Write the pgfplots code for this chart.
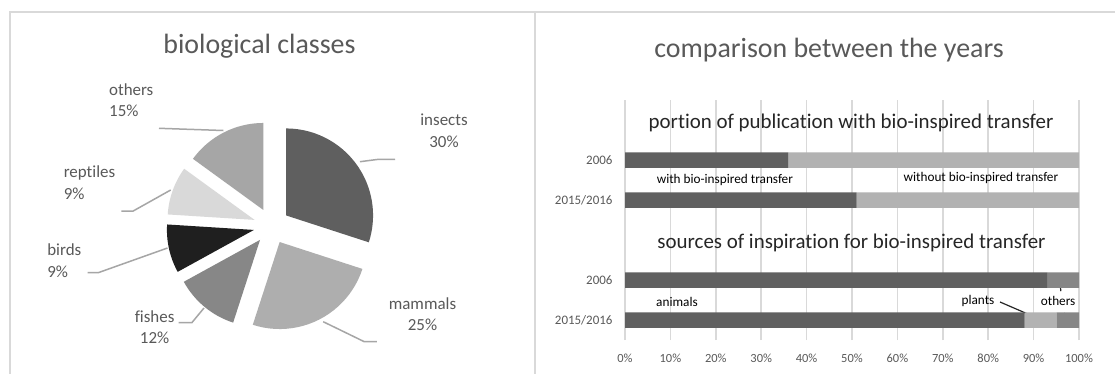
\documentclass[border=0pt]{standalone}
\usepackage{fontspec}
\setmainfont{Carlito}[Ligatures=NoCommon]
\usepackage{pgfplots}
\pgfplotsset{compat=1.18}
\definecolor{gridgray}{HTML}{D9D9D9}
\definecolor{txtgray}{HTML}{595959}
\definecolor{cdark}{HTML}{606060}
\definecolor{clight}{HTML}{B2B2B2}
\definecolor{cmid}{HTML}{868686}
\definecolor{pinsects}{HTML}{5F5F5F}
\definecolor{pmammals}{HTML}{AEAEAE}
\definecolor{pfishes}{HTML}{878787}
\definecolor{pbirds}{HTML}{1F1F1F}
\definecolor{preptiles}{HTML}{D9D9D9}
\definecolor{pothers}{HTML}{A6A6A6}
\definecolor{leader}{HTML}{A6A6A6}
\newcommand\fs[2]{\fontsize{#1}{#2}\selectfont}
% start (percent), share (percent), colour
\newcommand\pieslice[3]{%
  \fill[#3] (axis cs:{18*cos(90-3.6*(#1+#2/2))},{18*sin(90-3.6*(#1+#2/2))})
    -- +({90-3.6*#1}:87bp) arc[start angle={90-3.6*#1}, end angle={90-3.6*(#1+#2)}, radius=87bp] -- cycle;}
\begin{document}
\begin{tikzpicture}
\useasboundingbox (0,0) rectangle (1115bp,-374bp);
\fill[white] (0,0) rectangle (1115bp,-374bp);
\draw[gridgray, line width=1.5bp] (10bp,-374bp) -- (10bp,-12bp) -- (1115bp,-12bp);
\draw[gridgray, line width=1.5bp] (535bp,-12bp) -- (535bp,-374bp);

% ---------------- left: pie ----------------
\node[font=\fs{28}{30}, text=txtgray] at (259.5bp,-46.7bp) {biological classes};
\begin{axis}[at={(271.5bp,-226bp)}, anchor=center, x=1bp, y=1bp,
  xmin=-110, xmax=110, ymin=-110, ymax=110, hide axis, clip=false]
  \pieslice{0}{30}{pinsects}
  \pieslice{30}{25}{pmammals}
  \pieslice{55}{12}{pfishes}
  \pieslice{67}{9}{pbirds}
  \pieslice{76}{9}{preptiles}
  \pieslice{85}{15}{pothers}
\end{axis}
\begin{scope}[leader, line width=1.5bp]
\draw (159bp,-128.3bp) -- (223.3bp,-130.5bp);
\draw (360bp,-161.7bp) -- (377bp,-159.5bp) -- (395bp,-159.3bp);
\draw (121.4bp,-211bp) -- (133.2bp,-211bp) -- (170.7bp,-190bp);
\draw (87.5bp,-272.7bp) -- (98.2bp,-272.7bp) -- (167.5bp,-248bp);
\draw (178.5bp,-322.5bp) -- (192bp,-322.5bp) -- (204bp,-308bp);
\draw (323.2bp,-321.7bp) -- (364.3bp,-341.7bp) -- (376.8bp,-341.7bp);
\end{scope}
\begin{scope}[every node/.style={font=\fs{17}{22}, text=txtgray, inner sep=0pt}]
\node[align=left, anchor=west] at (109bp,-100.2bp) {others\\15\%};
\node[align=center] at (444bp,-130.8bp) {insects\\30\%};
\node[align=left, anchor=west] at (63.6bp,-183bp) {reptiles\\9\%};
\node[align=left, anchor=west] at (47.1bp,-260.5bp) {birds\\9\%};
\node[align=center] at (154.6bp,-327.2bp) {fishes\\12\%};
\node[align=center] at (422.5bp,-314.2bp) {mammals\\25\%};
\end{scope}

% ---------------- right: stacked bars ----------------
\node[font=\fs{28}{30}, text=txtgray] at (829bp,-50bp) {comparison between the years};
\begin{axis}[at={(625bp,-340bp)}, anchor=south west, scale only axis,
  width=454bp, height=240bp,
  xmin=0, xmax=100, ymin=-0.5, ymax=5.5,
  xbar stacked, bar width=15.5bp,
  axis line style={draw=none}, major tick length=0pt,
  xtick={0,10,...,100},
  xticklabels={0\%,10\%,20\%,30\%,40\%,50\%,60\%,70\%,80\%,90\%,100\%},
  ytick={0,1,3,4},
  yticklabels={2015/2016,2006,2015/2016,2006},
  xmajorgrids, grid style={gridgray, line width=1.5bp},
  tick label style={text=txtgray, font=\fs{12.5}{14}},
  xticklabel style={yshift=-10bp},
  yticklabel style={font=\fs{13}{14}, xshift=-9bp},
  clip=false]
  \addplot[fill=cdark, draw=none] coordinates {(36,4) (51,3) (93,1) (88,0)};
  \addplot[fill=clight, draw=none] coordinates {(64,4) (49,3) (0,1) (7,0)};
  \addplot[fill=cmid, draw=none] coordinates {(0,4) (0,3) (7,1) (5,0)};
  \node[font=\fs{21}{24}, text=black!85] at (axis cs:49.8,4.925) {portion of publication with bio-inspired transfer};
  \node[font=\fs{21}{24}, text=black!85] at (axis cs:49.9,1.92) {sources of inspiration for bio-inspired transfer};
  \node[font=\fs{13.3}{15}, inner sep=0pt] at (axis cs:22,3.5) {with bio-inspired transfer};
  \node[font=\fs{13.3}{15}, inner sep=0pt] at (axis cs:78.4,3.55) {without bio-inspired transfer};
  \node[font=\fs{13.3}{15}, inner sep=0pt] at (axis cs:11.45,0.457) {animals};
  \node[font=\fs{13.3}{15}, inner sep=0pt] at (axis cs:77.75,0.475) {plants};
  \node[font=\fs{13.3}{15}, inner sep=0pt] at (axis cs:95.4,0.475) {others};
  \draw[black!85, line width=1.2bp] (axis cs:82.6,0.45) -- (axis cs:90.75,0.05);
  \draw[black!85, line width=1.2bp] (axis cs:95.8,0.95) -- (axis cs:96.0,0.72);
  \draw[black!85, line width=1.2bp] (axis cs:96.9,0.175) -- (axis cs:95.8,-0.075);
\end{axis}
\end{tikzpicture}
\end{document}
